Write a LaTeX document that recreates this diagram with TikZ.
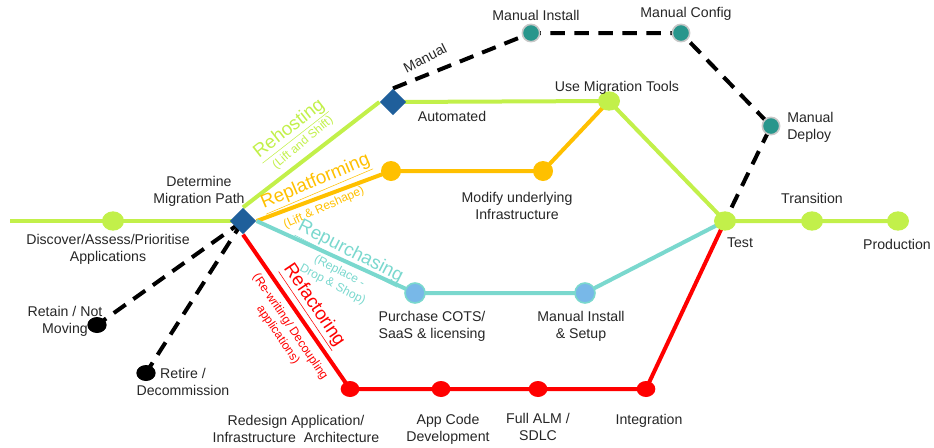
\documentclass[tikz,border=0pt]{standalone}
\usepackage{fontspec}
\setmainfont{Liberation Sans}
\usetikzlibrary{shapes.geometric}
\definecolor{grnline}{RGB}{194,240,74}
\definecolor{orgline}{RGB}{255,192,0}
\definecolor{tealline}{RGB}{122,216,206}
\definecolor{bluedot}{RGB}{120,184,232}
\definecolor{redline}{RGB}{255,0,0}
\definecolor{dmdblue}{RGB}{31,95,155}
\definecolor{mandot}{RGB}{40,150,140}
\definecolor{halo}{RGB}{200,200,200}
\definecolor{txt}{RGB}{38,38,38}
\pgfdeclarelayer{bg}
\pgfsetlayers{bg,main}
\begin{document}
\begin{tikzpicture}[x=0.75pt,y=-0.75pt,
  lbl/.style={font=\fontsize{10.6}{12.8}\selectfont, text=txt, align=center, inner sep=0pt},
  big/.style={font=\fontsize{14}{16}\selectfont, inner sep=0pt},
  small/.style={font=\fontsize{9}{11}\selectfont, inner sep=0pt, align=center},
  dmd/.style={diamond, fill=dmdblue, minimum width=20pt, minimum height=20pt, inner sep=0pt},
  gdot/.style={ellipse, fill=grnline, minimum width=16.5pt, minimum height=14.5pt, inner sep=0pt},
  odot/.style={circle, fill=orgline, minimum size=15pt, inner sep=0pt},
  bdot/.style={circle, fill=bluedot, draw=tealline, line width=1.2pt, minimum size=15pt, inner sep=0pt},
  rdot/.style={ellipse, fill=redline, minimum width=14pt, minimum height=12pt, inner sep=0pt},
  mdot/.style={circle, fill=mandot, draw=halo, line width=1.2pt, minimum size=13pt, inner sep=0pt},
  kdot/.style={ellipse, fill=black, minimum width=14.5pt, minimum height=12pt, inner sep=0pt},
  route/.style={line width=3pt, line join=round},
  manroute/.style={line width=3pt, draw=black, dash pattern=on 11pt off 7pt}]
\useasboundingbox (0,0) rectangle (934,447);

% stations
\coordinate (start) at (10,221);
\node[gdot] (disc) at (113,221) {};
\node[dmd] (dmp) at (243,221) {};
\node[dmd] (auto) at (393,102) {};
\node[gdot] (umt) at (609,101) {};
\node[gdot] (test) at (725,221) {};
\node[gdot] (trans) at (812,221) {};
\node[gdot] (prod) at (898,221) {};
\node[mdot] (mi) at (531,33) {};
\node[mdot] (mc) at (681,33) {};
\node[mdot] (md) at (771,126) {};
\node[odot] (o1) at (391,171) {};
\node[odot] (o2) at (543,171) {};
\node[bdot] (b1) at (415,293) {};
\node[bdot] (b2) at (585,293) {};
\node[rdot] (r1) at (350,389) {};
\node[rdot] (r2) at (441,389) {};
\node[rdot] (r3) at (538,389) {};
\node[rdot] (r4) at (646,389) {};
\node[kdot] (ret) at (97,325) {};
\node[kdot] (rtr) at (146,373) {};

% routes
\begin{pgfonlayer}{bg}
  \draw[route, grnline] (start) -- (dmp.center);
  \draw[route, grnline] (dmp.north) -- (auto.west);
  \draw[route, grnline] (auto.center) -- (umt.center) -- (test.center) -- (prod.center);
  \draw[route, orgline] (dmp.east) -- (o1.center) -- (o2.center) -- (umt.center);
  \draw[route, tealline] (dmp.east) -- (b1.center) -- (b2.center) -- (test.center);
  \draw[route, redline] (dmp.south) -- (r1.center) -- (r2.center) -- (r3.center) -- (r4.center) -- (test.center);
  \draw[manroute] (auto.north) -- (mi.center) -- (mc.center) -- (md.center) -- (test.center);
  \draw[manroute] (dmp.center) -- (ret.center);
  \draw[manroute] (dmp.center) -- (rtr.center);
\end{pgfonlayer}

% station labels
\node[lbl] (tdisc) at (108,249) {Discover/Assess/Prioritise\\Applications};
\node[lbl] (tdmp) at (199,191) {Determine\\Migration Path};
\node[lbl] (tmi) at (536,15) {Manual Install};
\node[lbl] (tmc) at (686,14) {Manual Config};
\node[lbl, anchor=west, align=left] (tmd) at (787,127) {Manual\\Deploy};
\node[lbl] (tauto) at (452,116) {Automated};
\node[lbl] (tumt) at (617,88) {Use Migration Tools};
\node[lbl, rotate=27] (tman) at (425,58) {Manual};
\node[lbl] (ttrans) at (812,198) {Transition};
\node[lbl] (tprod) at (897,244) {Production};
\node[lbl] (ttest) at (740,243) {Test};
\node[lbl] (to2) at (517,206) {Modify underlying\\Infrastructure};
\node[lbl] (tb1) at (432,326) {Purchase COTS/\\SaaS \& licensing};
\node[lbl] (tb2) at (581,326) {Manual Install\\\& Setup};
\node[lbl] (tr1) at (296,429) {Redesign Application/\\Infrastructure\ \ Architecture};
\node[lbl] (tr2) at (448,429) {App Code\\Development};
\node[lbl] (tr3) at (538,427) {Full ALM /\\SDLC};
\node[lbl] (tr4) at (649,421) {Integration};
\node[lbl] (tret) at (65,321) {Retain / Not\\Moving};
\node[lbl] (trtr) at (183,382) {Retire /\\Decommission};

% route names
\node[big, text=grnline, rotate=38] (nreh) at (290,130) {\underline{Rehosting}};
\node[small, text=grnline, rotate=40] (sreh) at (303,143) {(Lift and Shift)};
\node[big, text=orgline, rotate=23] (nrep) at (316,183) {\underline{Replatforming}};
\node[small, text=orgline, rotate=24] (srep) at (324,208) {(Lift \& Reshape)};
\node[big, text=tealline, rotate=-27] (npur) at (350,253) {\underline{Repurchasing}};
\node[small, text=tealline, rotate=-28] (spur) at (336,278) {(Replace -\\Drop \& Shop)};
\node[big, text=redline, rotate=-56] (nref) at (313,306) {\underline{Refactoring}};
\node[small, text=redline, rotate=-56] (sref) at (284,331) {(Re-writing/ Decoupling\\applications)};
\end{tikzpicture}
\end{document}
